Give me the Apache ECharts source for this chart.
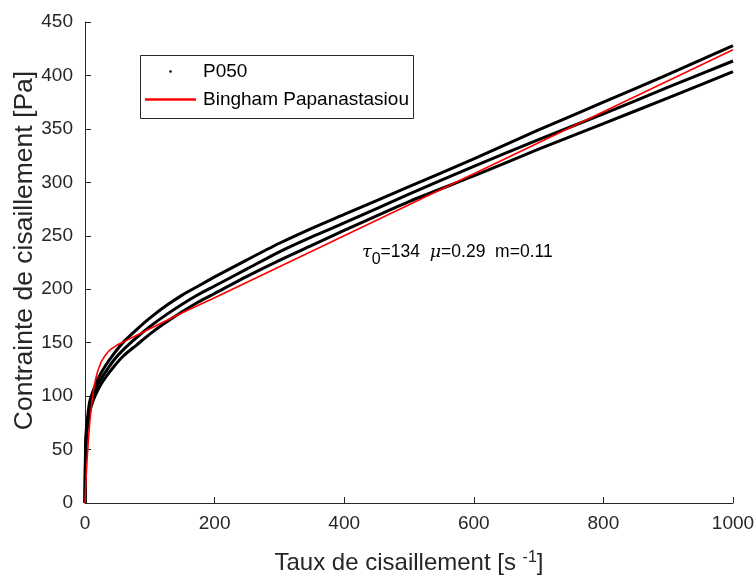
<!DOCTYPE html>
<html>
<head>
<meta charset="utf-8">
<script src="https://cdn.jsdelivr.net/npm/echarts@6/dist/echarts.min.js"></script>
<style>html,body{margin:0;padding:0;background:#fff}#c{width:756px;height:576px}</style>
</head>
<body>
<div id="c"></div>
<script>
// Shear rate (s^-1) sample positions for the measured curves
const rateMeas = [0, 0.5, 1, 2, 4, 7, 12, 20, 30, 45, 60, 80, 100, 125, 150, 175, 200, 250, 300, 350, 400, 500, 600, 700, 800, 900, 1000];
// Measured stress (Pa), P050, three passes
const stressUpper = [0, 35, 55, 68, 80, 94, 104, 116, 127, 140, 151, 162.5, 173, 184.5, 194.5, 203, 211.5, 227.5, 243, 257, 270, 296, 322, 349, 375, 401, 428];
const stressMiddle = [0, 30, 50, 64, 76, 88, 99, 111, 121, 134, 144, 155, 165, 176, 186, 195, 203, 219, 235, 249, 262, 289, 315, 340, 364, 389, 413.5];
const stressLower = [0, 25, 45, 60, 72, 84, 95, 106, 116, 128, 138, 148, 158, 169, 179, 188, 196, 212, 227, 241, 255, 282, 306, 331, 355, 379, 403.5];
// Bingham Papanastasiou fitted curve
const rateModel = [0, 1, 2, 3, 5, 7, 10, 13, 16, 20, 25, 30, 35, 40, 50, 60, 80, 100, 150, 200, 300, 400, 500, 600, 700, 800, 900, 1000];
const stressModel = [0, 14, 27, 38, 57, 73, 91, 105, 115, 124, 132, 137, 141, 144, 148, 151, 157, 163, 178, 192, 221, 250, 279, 308, 337, 366, 395, 424];
const xTicks = [0, 200, 400, 600, 800, 1000];
const yTicks = [0, 50, 100, 150, 200, 250, 300, 350, 400, 450];
const seriesNames = ['P050', 'Bingham Papanastasiou'];

const pair = (xs, ys) => xs.map((x, i) => [x, ys[i]]);
const axisCol = '#262626';
const font = 'Liberation Sans, Arial, Helvetica, sans-serif';

const chart = echarts.init(document.getElementById('c'), null, {renderer: 'canvas'});
const blackSeries = [stressUpper, stressMiddle, stressLower].map(ys => ({
  name: seriesNames[0], type: 'line', data: pair(rateMeas, ys),
  showSymbol: false, smooth: 0.25,
  lineStyle: {color: '#000', width: 3}, itemStyle: {color: '#000'}, z: 2, animation: false
}));
chart.setOption({
  animation: false,
  backgroundColor: '#fff',
  textStyle: {fontFamily: font},
  grid: {left: 85, right: 23, top: 22, bottom: 73, containLabel: false, outerBoundsMode: 'none'},
  xAxis: {
    type: 'value', min: xTicks[0], max: xTicks[xTicks.length - 1], interval: 200,
    name: 'Taux de cisaillement [s {sup|-1}]', nameLocation: 'middle', nameGap: 47, nameMoveOverlap: false,
    nameTextStyle: {fontSize: 24, color: axisCol, fontFamily: font,
      rich: {sup: {fontSize: 16, verticalAlign: 'top', padding: [0, 0, 11, 0], color: axisCol, fontFamily: font}}},
    axisLine: {lineStyle: {color: axisCol, width: 1}},
    axisTick: {inside: true, length: 6, lineStyle: {color: axisCol}},
    axisLabel: {fontSize: 19, color: axisCol, margin: 11, fontFamily: font, formatter: v => String(v)},
    splitLine: {show: false}
  },
  yAxis: {
    type: 'value', min: yTicks[0], max: yTicks[yTicks.length - 1], interval: 50,
    name: 'Contrainte de cisaillement [Pa]', nameLocation: 'middle', nameGap: 47, nameMoveOverlap: false,
    nameTextStyle: {fontSize: 26.5, color: axisCol, fontFamily: font, padding: [0, 0, 0, 24]},
    axisLine: {show: true, lineStyle: {color: axisCol, width: 1}},
    axisTick: {show: true, inside: true, length: 6, lineStyle: {color: axisCol}},
    axisLabel: {fontSize: 19, color: axisCol, margin: 12, fontFamily: font},
    splitLine: {show: false}
  },
  legend: {
    orient: 'vertical', left: 145, top: 62, itemGap: 9, itemWidth: 51, itemHeight: 2.5,
    padding: 0,
    textStyle: {fontSize: 19, color: '#000', fontFamily: font, padding: [0, 0, 0, 2]},
    data: [{name: seriesNames[0], icon: 'circle'}, {name: seriesNames[1], icon: 'rect', itemStyle: {color: '#ff0000'}}],
    itemStyle: {borderWidth: 0}
  },
  graphic: [
    {type: 'rect', left: 138, top: 53, shape: {width: 273, height: 63},
     style: {fill: 'none', stroke: '#262626', lineWidth: 1}, z: 10, silent: true},
    {type: 'text', left: 362, top: 243, z: 10,
     style: {text: '{i|τ}{sub|0}=134  {i|μ}=0.29  m=0.11', fontSize: 17.5, fill: '#000', fontFamily: font,
       rich: {i: {fontStyle: 'italic', fontSize: 17.5, fontFamily: 'DejaVu Serif, serif'},
              sub: {fontSize: 16, padding: [15, 0, 0, 0], fontFamily: font}}}}
  ],
  series: blackSeries.concat([{
    name: seriesNames[1], type: 'line', data: pair(rateModel, stressModel),
    showSymbol: false, smooth: false,
    lineStyle: {color: '#ff0000', width: 1.6}, itemStyle: {color: '#ff0000'}, z: 3
  }])
});
</script>
</body>
</html>
